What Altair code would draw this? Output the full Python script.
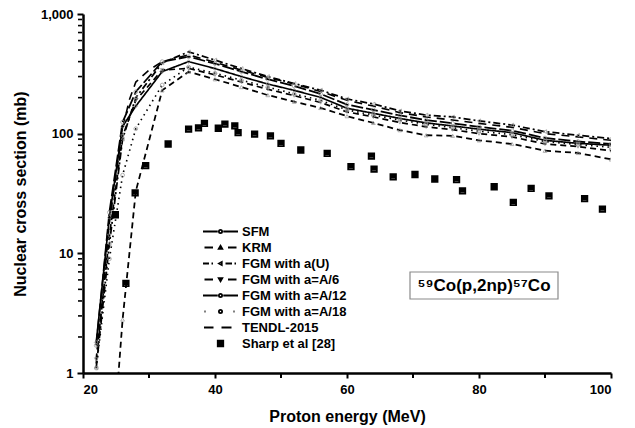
import altair as alt
import pandas as pd

# ---------------- data ----------------
energy = [22, 24, 26, 28, 32, 36, 40, 44, 48, 52, 56, 60, 64, 68, 72, 76, 80, 85, 90, 95, 100]
sfm = [1.7, 22, 125, 224, 400, 440, 385, 330, 285, 250, 215, 175, 158, 142, 130, 122, 114, 106, 92, 86, 82]
krm = [0.02, 0.1, 2.8, 33, 230, 329, 285, 245, 210, 185, 164, 140, 123, 107, 97, 96, 88, 82, 72, 69, 61]
fgm_au = [1.1, 12, 90, 200, 390, 483, 412, 350, 300, 262, 231, 195, 177, 155, 143, 138, 128, 118, 104, 97, 91]
fgm_a6 = [1.3, 14, 95, 190, 340, 351, 310, 270, 235, 208, 182, 152, 138, 124, 114, 108, 100, 94, 82, 78, 72]
fgm_a12 = [1.8, 20, 115, 170, 330, 400, 350, 300, 260, 230, 201, 163, 148, 134, 123, 116, 109, 102, 88, 83, 80]
fgm_a18 = [1.1, 9, 45, 110, 255, 360, 320, 280, 245, 215, 190, 158, 143, 130, 120, 112, 105, 98, 86, 81, 77]

tendl_energy = [22, 23, 24, 25, 26, 27, 28, 30, 32, 36, 40, 44, 48, 52, 56, 60, 64, 68, 72, 76, 80, 85, 90, 95, 100]
tendl = [1.2, 4.5, 18, 45, 110, 190, 270, 340, 400, 455, 395, 340, 295, 260, 225, 190, 170, 150, 138, 130, 122, 113, 100, 94, 88]

sharp_energy = [24.9, 26.5, 27.9, 29.5, 32.9, 36.0, 37.5, 38.4, 40.5, 41.5, 43.0, 43.5, 46.0, 48.4, 50.0,
                53.0, 57.0, 60.6, 63.7, 64.1, 67.0, 70.3, 73.3, 76.6, 77.5, 82.3, 85.2, 87.9, 90.6, 96.0, 98.7]
sharp_xs = [21, 5.6, 32, 54, 82, 109, 112, 122, 111, 120, 116, 102, 99, 96, 83,
            73, 68.5, 53, 65, 50.6, 43.6, 45.6, 41.8, 41.3, 33.3, 36, 26.7, 34.9, 30.2, 28.7, 23.4]

series_names = ["SFM", "KRM", "FGM with a(U)", "FGM with a=A/6", "FGM with a=A/12",
                "FGM with a=A/18", "TENDL-2015", "Sharp et al [28]"]
annotation = "\u2075\u2079Co(p,2np)\u2075\u2077Co"

x_major = [20, 40, 60, 80, 100]
x_minor = [30, 50, 70, 90]
y_major = [1, 10, 100, 1000]
y_minor = [m * d for d in (1, 10, 100) for m in range(2, 10)]

# ---------------- tables ----------------
rows = []
for name, vals in zip(series_names[:6], [sfm, krm, fgm_au, fgm_a6, fgm_a12, fgm_a18]):
    for e, v in zip(energy, vals):
        rows.append({"series": name, "E": e, "xs": v})
for e, v in zip(tendl_energy, tendl):
    rows.append({"series": "TENDL-2015", "E": e, "xs": v})
model_df = pd.DataFrame(rows)
sharp_df = pd.DataFrame({"series": series_names[7], "E": sharp_energy, "xs": sharp_xs})

FONT = "Liberation Sans"
x_scale = alt.Scale(domain=[20, 100], nice=False, zero=False)
y_scale = alt.Scale(type="log", domain=[1, 1000], nice=False)

x_axis = alt.Axis(values=x_major, format="d", grid=False, domainWidth=2.5, tickWidth=2,
                  tickSize=5, labelPadding=5, title="Proton energy (MeV)", titlePadding=12)
y_axis = alt.Axis(values=y_major, format=",", grid=False, domainWidth=2.5, tickWidth=2,
                  tickSize=6, labelPadding=4, title="Nuclear cross section (mb)", titlePadding=12)

names7 = series_names[:7]
dashes = [[12, 3], [6, 4], [7, 3, 2, 3], [6, 4], [1, 0], [1.5, 4], [8, 6]]
widths = [1.8, 1.6, 1.6, 1.6, 2.6, 1.8, 1.8]

lines = alt.Chart(model_df).mark_line(clip=True, color="black").encode(
    x=alt.X("E:Q", scale=x_scale, axis=x_axis),
    y=alt.Y("xs:Q", scale=y_scale, axis=y_axis),
    strokeDash=alt.StrokeDash("series:N", scale=alt.Scale(domain=names7, range=dashes), legend=None),
    strokeWidth=alt.StrokeWidth("series:N", scale=alt.Scale(domain=names7, range=widths), legend=None),
)

# minor axis ticks, placed through the same scales
xminor_df = pd.DataFrame({"v": x_minor})
yminor_df = pd.DataFrame({"v": y_minor})
xminor = alt.Chart(xminor_df).mark_rule(strokeWidth=2, color="black").encode(
    x=alt.X("v:Q"), y=alt.value(360), y2=alt.value(364))
yminor = alt.Chart(yminor_df).mark_rule(strokeWidth=1.6, color="black").encode(
    y=alt.Y("v:Q"), x=alt.value(-5), x2=alt.value(-1))

marker_shapes = ["circle", "triangle-up", "triangle-left", "triangle-down", "diamond", "circle"]
marker_layers = []
for name, shp in zip(series_names[:6], marker_shapes):
    marker_layers.append(
        alt.Chart(model_df).transform_filter(alt.datum.series == name).mark_point(
            clip=True, filled=False, color="#8c8c8c", size=14, strokeWidth=1, shape=shp
        ).encode(x=alt.X("E:Q"), y=alt.Y("xs:Q"))
    )

circ = "M0.32,0A0.32,0.32,0,1,1,-0.32,0A0.32,0.32,0,1,1,0.32,0"
legend_paths = [
    "M-3.5,0H-0.55M0.55,0H3.5" + circ,
    "M-3.2,0H-1.5M1.5,0H3.2M0,-0.35L0.35,0.25L-0.35,0.25Z",
    "M-3.5,0H-2.3M-1.8,0H-1.5M1.0,0H2.3M2.8,0H3.1M-0.3,0L0.25,-0.3L0.25,0.3Z",
    "M-3.2,0H-1.5M1.5,0H3.2M0,0.35L0.35,-0.25L-0.35,-0.25Z",
    "M-3.5,0H-0.55M0.55,0H3.5" + circ,
    "M-3.2,0H-3.0M2.6,0H2.8" + circ,
    "M-3.3,0H-1.4M0.2,0H2.2",
    "M-0.55,-0.55H0.55V-0.2H-0.55V0.15H0.55V0.55H-0.55ZM-0.55,-0.55V0.55",
]

leg = alt.Legend(title=None, orient="none", legendX=131, legendY=211, symbolSize=100,
                 symbolStrokeColor="black", symbolStrokeWidth=1.8, labelFont=FONT,
                 labelFontWeight="bold", labelFontSize=13, labelColor="black",
                 rowPadding=2, symbolOffset=0, labelOffset=15, padding=0)

sharp = alt.Chart(sharp_df).mark_point(filled=False, size=100, color="black",
                                       strokeWidth=1.8, clip=True, opacity=1).encode(
    x=alt.X("E:Q"),
    y=alt.Y("xs:Q"),
    shape=alt.Shape("series:N", scale=alt.Scale(domain=series_names, range=legend_paths), legend=leg),
)

ann_df = pd.DataFrame({"t": [annotation]})
box = alt.Chart(ann_df).mark_rect(fill="white", stroke="#8a8a8a", strokeWidth=1.2).encode(
    x=alt.value(327), x2=alt.value(475), y=alt.value(258), y2=alt.value(285))
label = alt.Chart(ann_df).mark_text(font=FONT, fontSize=17, fontWeight="bold", color="black",
                                    align="center", baseline="middle").encode(
    x=alt.value(401), y=alt.value(272), text="t:N")

chart = alt.layer(lines, xminor, yminor, *marker_layers, sharp, box, label).properties(
    width=528, height=359,
    padding={"left": 75, "top": 6, "right": 16, "bottom": 54},
    autosize=alt.AutoSizeParams(type="none"),
).configure_view(stroke=None).configure_axis(
    labelFont=FONT, labelFontWeight="bold", labelFontSize=13, labelColor="black",
    titleFont=FONT, titleFontWeight="bold", titleFontSize=16, titleColor="black",
    domainColor="black", tickColor="black",
)

chart.save("out.html", embed_options={"renderer": "svg", "actions": False})
